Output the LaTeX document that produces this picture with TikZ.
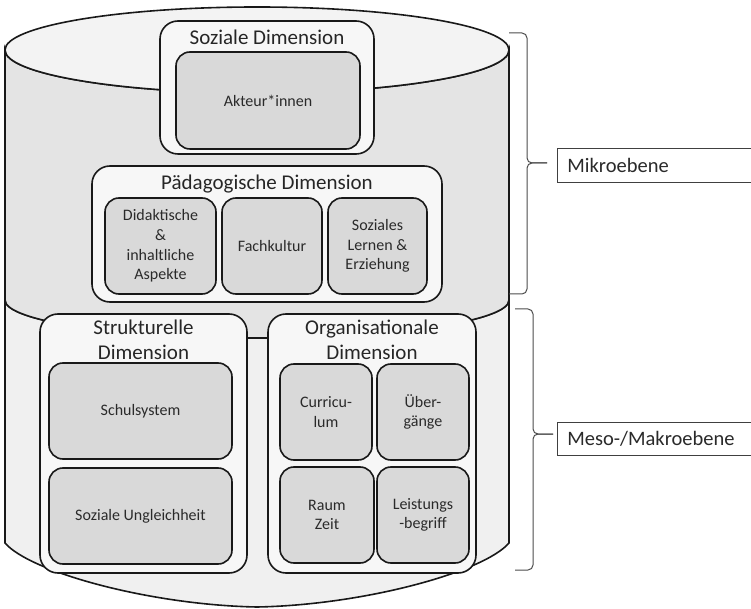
\documentclass[tikz,border=0pt]{standalone}
\usepackage{fontspec}
\setmainfont{Carlito}
\usepackage{xcolor}
\usepackage{tikz}
\definecolor{canupper}{HTML}{E4E4E4}
\definecolor{canlower}{HTML}{F0F0F0}
\definecolor{cantop}{HTML}{F3F3F3}
\definecolor{boxouter}{HTML}{F7F7F7}
\definecolor{boxinner}{HTML}{D9D9D9}
\definecolor{inktext}{HTML}{2A2A2A}
\tikzstyle{can} = [line width=1.6pt, draw=black!90]
\tikzstyle{outerbox} = [draw=black!90, line width=1.6pt, fill=boxouter, rounded corners=18pt]
\tikzstyle{innerbox} = [draw=black!90, line width=1.6pt, fill=boxinner, rounded corners=14pt, align=center, text=inktext, inner sep=0pt, font=\fontsize{16}{19.7}\selectfont]
\tikzstyle{title} = [align=center, text=black!85, font=\fontsize{21}{25}\selectfont]
\tikzstyle{levelbox} = [draw=black!75, line width=0.8pt, fill=white, anchor=west, text width=180pt, inner xsep=10pt, align=left, text=inktext, font=\fontsize{20.5}{24}\selectfont]
\tikzstyle{brace} = [line width=1pt, draw=black!70, rounded corners=5pt]

\begin{document}
\begin{tikzpicture}[x=1pt, y=1pt]
    \useasboundingbox (0,0) rectangle (751,608);
    \draw[can, fill=canlower] (5,308) -- (5,65) .. controls (30,36) and (150,3) .. (257,1)
        .. controls (364,3) and (484,36) .. (509,65) -- (509,308)
        arc[start angle=0, end angle=-180, x radius=252, y radius=38] -- cycle;
    \draw[can, fill=canupper] (5,558) -- (5,308)
        arc[start angle=180, end angle=360, x radius=252, y radius=38] -- (509,558)
        arc[start angle=0, end angle=-180, x radius=252, y radius=43] -- cycle;
    \draw[can, fill=cantop] (257,558) ellipse[x radius=252, y radius=43];

    \draw (267,520.5) node[outerbox, minimum width=214, minimum height=133](sozial){};
    \draw (267,571) node[title](sozialtitle){Soziale Dimension};
    \draw (268,507.5) node[innerbox, minimum width=184, minimum height=97](akteur){Akteur*innen};

    \draw (267,374) node[outerbox, minimum width=350, minimum height=136](paed){};
    \draw (267,424) node[title](paedtitle){Pädagogische Dimension};
    \draw (160.5,362) node[innerbox, minimum width=111, minimum height=96](didaktik){Didaktische\\\&\\inhaltliche\\Aspekte};
    \draw (272,362) node[innerbox, minimum width=100, minimum height=96](fach){Fachkultur};
    \draw (377.5,362) node[innerbox, minimum width=99, minimum height=96](lernen){Soziales\\Lernen \&\\Erziehung};

    \draw (143.5,164.5) node[outerbox, minimum width=207, minimum height=259](struktur){};
    \draw (143.5,268.5) node[title](strukturtitle){Strukturelle\\Dimension};
    \draw (140.5,197) node[innerbox, minimum width=183, minimum height=96](schule){Schulsystem};
    \draw (140.5,92) node[innerbox, minimum width=183, minimum height=96](ungleich){Soziale Ungleichheit};

    \draw (372,164.5) node[outerbox, minimum width=208, minimum height=259](orga){};
    \draw (372,268.5) node[title](orgatitle){Organisationale\\Dimension};
    \draw (326,196) node[innerbox, minimum width=92, minimum height=96](curri){Curricu-\\lum};
    \draw (423,196) node[innerbox, minimum width=92, minimum height=96](uebergang){Über-\\gänge};
    \draw (327,93) node[innerbox, minimum width=94, minimum height=96](raum){Raum\\Zeit};
    \draw (423,93) node[innerbox, minimum width=92, minimum height=96](leistung){Leistungs\\-begriff};

    \coordinate (mikrotop) at (509,575);
    \coordinate (mikrobot) at (509,314);
    \coordinate (mikrotip) at (547,445);
    \draw[brace] (mikrotop) -- (527,575) -- (527,445) -- (mikrotip);
    \draw[brace] (mikrobot) -- (527,314) -- (527,445) -- (mikrotip);
    \draw (557,443) node[levelbox, minimum height=34](mikro){Mikroebene};

    \coordinate (mesotop) at (515,299);
    \coordinate (mesobot) at (515,38);
    \coordinate (mesotip) at (553,174);
    \draw[brace] (mesotop) -- (533,299) -- (533,174) -- (mesotip);
    \draw[brace] (mesobot) -- (533,38) -- (533,174) -- (mesotip);
    \draw (557,169.5) node[levelbox, minimum height=33](meso){Meso-/Makroebene};
\end{tikzpicture}
\end{document}
